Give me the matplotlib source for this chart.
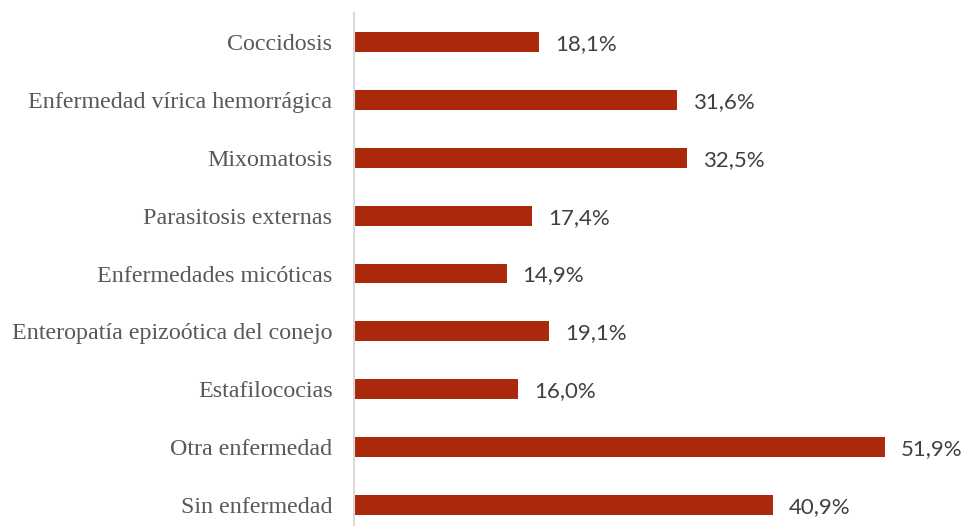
import matplotlib.pyplot as plt

# Datos (de arriba hacia abajo)
categorias = ['Coccidosis', 'Enfermedad vírica hemorrágica', 'Mixomatosis',
              'Parasitosis externas', 'Enfermedades micóticas',
              'Enteropatía epizoótica del conejo', 'Estafilococias',
              'Otra enfermedad', 'Sin enfermedad']
valores = [18.1, 31.6, 32.5, 17.4, 14.9, 19.1, 16.0, 51.9, 40.9]
etiquetas = ['18,1%', '31,6%', '32,5%', '17,4%', '14,9%', '19,1%', '16,0%', '51,9%', '40,9%']

fig = plt.figure(figsize=(9.63, 5.26), dpi=100)
ax = fig.add_axes([354 / 963, (526 - 534) / 526, 609 / 963, 521 / 526])

y = list(range(len(categorias)))
ax.barh(y, valores, height=0.345, color='#A9290A')

for yi, v, t in zip(y, valores, etiquetas):
    ax.annotate(t, (v, yi), xytext=(11.5, 0), textcoords='offset points',
                va='center_baseline', ha='left', fontsize=16, color='#404040', family='Lato')

ax.set_ylim(len(categorias) - 0.5, -0.5)
ax.set_xlim(0, 59.5)
ax.set_yticks(y)
ax.set_yticklabels(categorias, family='Liberation Serif', fontsize=17.3, color='#595959')
ax.tick_params(axis='y', length=0, pad=15.5)
ax.set_xticks([])
for s in ['top', 'right', 'bottom']:
    ax.spines[s].set_visible(False)
ax.spines['left'].set_color('#d9d9d9')
ax.spines['left'].set_linewidth(1.5)

fig.savefig('out.png', dpi=100)
